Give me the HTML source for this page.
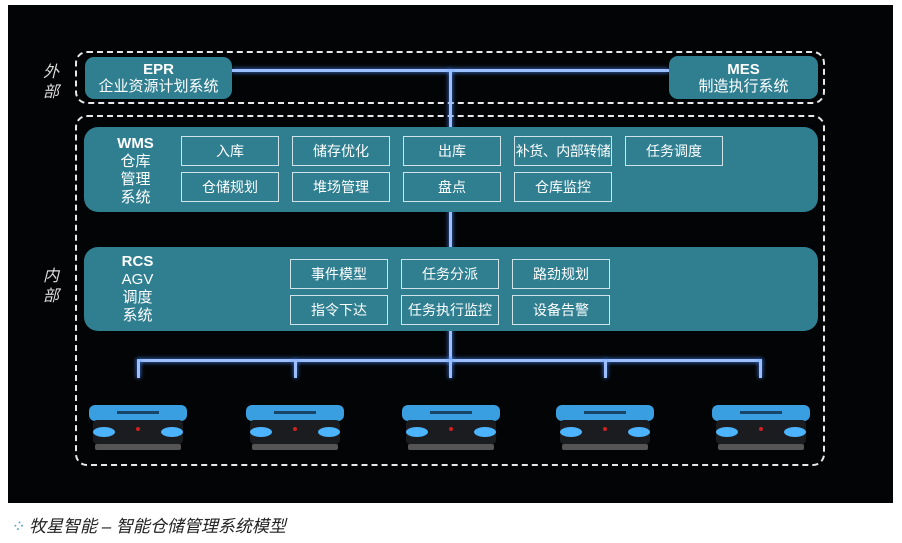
<!DOCTYPE html>
<html><head><meta charset="utf-8"><style>
body{margin:0;width:902px;height:543px;background:#fff;position:relative;overflow:hidden;font-family:"Liberation Sans","Noto Sans CJK SC",sans-serif}
.a{position:absolute}
.bg{left:8px;top:5px;width:885px;height:498px;background:#030405}
.dash{border:2px dashed #e8e8e8;border-radius:12px;box-sizing:border-box}
.panel{background:#2f7f91;border-radius:14px}
.box{border:1.5px solid #cfe3e8;box-sizing:border-box;color:#fff;font-size:14px;text-align:center;display:flex;align-items:center;justify-content:center;white-space:nowrap}
.t{color:#fff;text-align:center;line-height:17px}
.t2{color:#fff;text-align:center;line-height:18px;font-size:15px}
.lbl{color:#ddd;font-style:italic;font-size:16px;line-height:20px}
.line{background:#9cc0ff;box-shadow:0 0 5px #4a8cff}
</style></head><body>
<div class="a bg"></div>
<div class="a lbl" style="left:43px;top:63px">外<br>部</div>
<div class="a lbl" style="left:43px;top:267px">内<br>部</div>
<div class="a dash" style="left:75px;top:51px;width:750px;height:53px"></div>
<div class="a dash" style="left:75px;top:115px;width:750px;height:351px"></div>
<div class="a line" style="left:232px;top:69px;width:437px;height:3px"></div>
<div class="a line" style="left:449px;top:70px;width:3px;height:292px"></div>
<div class="a line" style="left:137px;top:359px;width:625px;height:3px"></div>
<div class="a line" style="left:137px;top:360px;width:3px;height:18px"></div>
<div class="a line" style="left:294px;top:360px;width:3px;height:18px"></div>
<div class="a line" style="left:449px;top:360px;width:3px;height:18px"></div>
<div class="a line" style="left:604px;top:360px;width:3px;height:18px"></div>
<div class="a line" style="left:759px;top:360px;width:3px;height:18px"></div>
<div class="a panel" style="left:85px;top:57px;width:147px;height:42px;border-radius:9px"></div>
<div class="a t" style="left:85px;top:61px;width:147px;font-size:15px"><b>EPR</b><br>企业资源计划系统</div>
<div class="a panel" style="left:669px;top:56px;width:149px;height:43px;border-radius:9px"></div>
<div class="a t" style="left:669px;top:61px;width:149px;font-size:15px"><b>MES</b><br>制造执行系统</div>
<div class="a panel" style="left:84px;top:127px;width:734px;height:85px"></div>
<div class="a t2" style="left:108px;top:135px;width:55px"><b>WMS</b><br>仓库<br>管理<br>系统</div>
<div class="a box" style="left:181px;top:136px;width:98px;height:30px">入库</div>
<div class="a box" style="left:292px;top:136px;width:98px;height:30px">储存优化</div>
<div class="a box" style="left:403px;top:136px;width:98px;height:30px">出库</div>
<div class="a box" style="left:514px;top:136px;width:98px;height:30px;letter-spacing:-0.5px">补货、内部转储</div>
<div class="a box" style="left:625px;top:136px;width:98px;height:30px">任务调度</div>
<div class="a box" style="left:181px;top:172px;width:98px;height:30px">仓储规划</div>
<div class="a box" style="left:292px;top:172px;width:98px;height:30px">堆场管理</div>
<div class="a box" style="left:403px;top:172px;width:98px;height:30px">盘点</div>
<div class="a box" style="left:514px;top:172px;width:98px;height:30px">仓库监控</div>
<div class="a panel" style="left:84px;top:247px;width:734px;height:84px"></div>
<div class="a t2" style="left:110px;top:253px;width:55px"><b>RCS</b><br>AGV<br>调度<br>系统</div>
<div class="a box" style="left:290px;top:259px;width:98px;height:30px">事件模型</div>
<div class="a box" style="left:401px;top:259px;width:98px;height:30px">任务分派</div>
<div class="a box" style="left:512px;top:259px;width:98px;height:30px">路劲规划</div>
<div class="a box" style="left:290px;top:295px;width:98px;height:30px">指令下达</div>
<div class="a box" style="left:401px;top:295px;width:98px;height:30px">任务执行监控</div>
<div class="a box" style="left:512px;top:295px;width:98px;height:30px">设备告警</div>
<svg class="a" style="left:0;top:0" width="902" height="543">
<defs><g id="r">
<rect x="0" y="0" width="98" height="16" rx="6" fill="#3a9fe0"/>
<rect x="4" y="15" width="90" height="24" rx="4" fill="#1a1c20"/>
<ellipse cx="15" cy="27" rx="11" ry="5" fill="#4cb4ff"/>
<ellipse cx="83" cy="27" rx="11" ry="5" fill="#4cb4ff"/>
<circle cx="49" cy="24" r="2" fill="#d02020"/>
<rect x="6" y="39" width="86" height="6" rx="2" fill="#555"/>
<rect x="28" y="6" width="42" height="3" fill="#18466a"/>
</g></defs>
<use href="#r" x="89" y="405"/><use href="#r" x="246" y="405"/><use href="#r" x="402" y="405"/><use href="#r" x="556" y="405"/><use href="#r" x="712" y="405"/>
</svg>
<div class="a" style="left:10px;top:512px;font-size:17px;font-style:italic;color:#222">
<span style="color:#4aa0c8">⁘</span> 牧星智能 – 智能仓储管理系统模型</div>
</body></html>
